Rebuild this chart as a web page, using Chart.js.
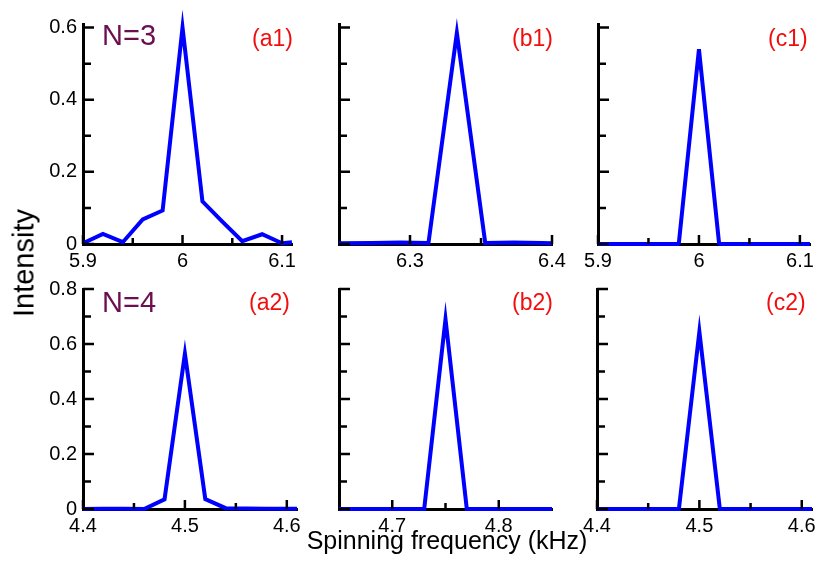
<!DOCTYPE html>
<html>
<head>
<meta charset="utf-8">
<script src="https://cdn.jsdelivr.net/npm/chart.js@4"></script>
<style>
  body { margin: 0; background: #fff; }
  #wrap { position: relative; width: 817px; height: 563px; overflow: hidden; background: #fff;
          font-family: "Liberation Sans", Arial, Helvetica, sans-serif; }
  canvas { position: absolute; }
  .lbl { position: absolute; line-height: 1; white-space: nowrap; }
  .n { color: #6b0f50; font-size: 29px; }
  .tag { color: #f20d0d; font-size: 23px; }
</style>
</head>
<body>
<div id="wrap">
  <canvas id="a1"></canvas>
  <canvas id="b1"></canvas>
  <canvas id="c1"></canvas>
  <canvas id="a2"></canvas>
  <canvas id="b2"></canvas>
  <canvas id="c2"></canvas>

  <div class="lbl n" style="left:102px;top:21px">N=3</div>
  <div class="lbl n" style="left:102px;top:288px">N=4</div>
  <div class="lbl tag" style="left:252px;top:27px">(a1)</div>
  <div class="lbl tag" style="left:512px;top:27px">(b1)</div>
  <div class="lbl tag" style="left:768px;top:27px">(c1)</div>
  <div class="lbl tag" style="left:249px;top:291px">(a2)</div>
  <div class="lbl tag" style="left:512px;top:291px">(b2)</div>
  <div class="lbl tag" style="left:766px;top:291px">(c2)</div>

  <div class="lbl" style="left:24px;top:263px;font-size:29px;transform:translate(-50%,-50%) rotate(-90deg)">Intensity</div>
  <div class="lbl" style="left:447px;top:528px;font-size:25px;transform:translateX(-50%)">Spinning frequency (kHz)</div>
</div>

<script>
// N=3 row
const a1X = [5.9, 5.92, 5.94, 5.96, 5.98, 6.0, 6.02, 6.04, 6.06, 6.08, 6.1, 6.11];
const a1Y = [0.002, 0.028, 0.005, 0.068, 0.093, 0.6, 0.118, 0.062, 0.008, 0.027, 0.002, 0.005];
const b1X = [6.25, 6.273, 6.293, 6.313, 6.333, 6.353, 6.373, 6.393, 6.4];
const b1Y = [0.002, 0.003, 0.004, 0.003, 0.585, 0.003, 0.004, 0.003, 0.002];
const c1X = [5.9, 5.92, 5.94, 5.96, 5.98, 6.0, 6.02, 6.04, 6.06, 6.08, 6.1, 6.11];
const c1Y = [0, 0, 0, 0, 0, 0.54, 0, 0, 0, 0, 0, 0];

// N=4 row
const a2X = [4.4, 4.42, 4.44, 4.46, 4.48, 4.5, 4.52, 4.54, 4.56, 4.58, 4.6, 4.61];
const a2Y = [0, 0.001, 0.001, 0, 0.035, 0.565, 0.036, 0.003, 0.002, 0.001, 0.001, 0.001];
const b2X = [4.65, 4.67, 4.69, 4.71, 4.73, 4.75, 4.77, 4.79, 4.81, 4.83, 4.85];
const b2Y = [0, 0, 0, 0, 0, 0.69, 0, 0, 0, 0, 0];
const c2X = [4.4, 4.42, 4.44, 4.46, 4.48, 4.5, 4.52, 4.54, 4.56, 4.58, 4.6, 4.61];
const c2Y = [0, 0, 0, 0, 0, 0.645, 0, 0, 0, 0, 0, 0];

// ticks and tick labels
const topYTicks = [0, 0.1, 0.2, 0.3, 0.4, 0.5, 0.6];
const topYLabels = ["0", "", "0.2", "", "0.4", "", "0.6"];
const botYTicks = [0, 0.1, 0.2, 0.3, 0.4, 0.5, 0.6, 0.7, 0.8];
const botYLabels = ["0", "", "0.2", "", "0.4", "", "0.6", "", "0.8"];
const noYLabels = ["", "", "", "", "", "", "", "", ""];
const x6Ticks = [5.9, 5.95, 6.0, 6.05, 6.1];
const x6Labels = ["5.9", "", "6", "", "6.1"];
const xb1Ticks = [6.3, 6.35, 6.4];
const xb1Labels = ["6.3", "", "6.4"];
const x45Ticks = [4.4, 4.45, 4.5, 4.55, 4.6];
const x45Labels = ["4.4", "", "4.5", "", "4.6"];
const xb2Ticks = [4.7, 4.75, 4.8];
const xb2Labels = ["4.7", "", "4.8"];

Chart.defaults.font.family = '"Liberation Sans", Arial, Helvetica, sans-serif';
Chart.defaults.color = "#000";

// inward tick marks, major every other tick
const innerTicks = {
  id: "innerTicks",
  afterDraw(chart) {
    const ctx = chart.ctx;
    const area = chart.chartArea;
    const xs = chart.scales.x;
    const ys = chart.scales.y;
    ctx.save();
    ctx.strokeStyle = "#000";
    ctx.lineWidth = 2.5;
    ctx.beginPath();
    xs.ticks.forEach((t, i) => {
      const px = xs.getPixelForValue(t.value);
      const len = i % 2 === 0 ? 9 : 6;
      ctx.moveTo(px, area.bottom);
      ctx.lineTo(px, area.bottom - len);
    });
    ys.ticks.forEach((t, i) => {
      const py = ys.getPixelForValue(t.value);
      const len = i % 2 === 0 ? 11 : 8;
      ctx.moveTo(area.left, py);
      ctx.lineTo(area.left + len, py);
    });
    ctx.stroke();
    ctx.restore();
  },
};

function makePanel(id, box, xs, ys, xMin, xMax, yMax, xTicks, xLabels, yTicks, yLabels, join) {
  const canvas = document.getElementById(id);
  const padL = 60, padT = 25, padR = 25, padB = 5, axisH = 30;
  canvas.width = box.r - box.l + padL + padR;
  canvas.height = box.b - box.t + padT + padB + axisH;
  canvas.style.left = box.l - padL + "px";
  canvas.style.top = box.t - padT + "px";

  new Chart(canvas, {
    type: "line",
    data: {
      datasets: [
        {
          data: xs.map((x, i) => ({ x: x, y: ys[i] })),
          borderColor: "#0000ff",
          borderWidth: 4,
          borderJoinStyle: join,
          pointRadius: 0,
          tension: 0,
          fill: false,
          clip: false,
        },
      ],
    },
    plugins: [innerTicks],
    options: {
      responsive: false,
      animation: false,
      layout: { padding: { left: 0, top: padT, right: padR, bottom: padB } },
      plugins: { legend: { display: false }, tooltip: { enabled: false } },
      scales: {
        x: {
          type: "linear",
          min: xMin,
          max: xMax,
          grid: { display: false, drawTicks: false },
          border: { display: true, color: "#000", width: 3 },
          afterBuildTicks: (scale) => {
            scale.ticks = xTicks.map((v) => ({ value: v }));
          },
          afterFit: (scale) => {
            scale.height = axisH;
            scale.paddingLeft = 0;
            scale.paddingRight = 0;
          },
          ticks: {
            autoSkip: false,
            maxRotation: 0,
            padding: 5,
            font: { size: 20 },
            callback: (v, i) => xLabels[i],
          },
        },
        y: {
          type: "linear",
          min: 0,
          max: yMax,
          grid: { display: false, drawTicks: false },
          border: { display: true, color: "#000", width: 3 },
          afterBuildTicks: (scale) => {
            scale.ticks = yTicks.map((v) => ({ value: v }));
          },
          afterFit: (scale) => {
            scale.width = padL;
            scale.paddingTop = 0;
            scale.paddingBottom = 0;
          },
          ticks: {
            autoSkip: false,
            padding: 6,
            font: { size: 20 },
            callback: (v, i) => yLabels[i],
          },
        },
      },
    },
  });
}

makePanel("a1", { l: 83, r: 292, t: 24, b: 244 }, a1X, a1Y, 5.9, 6.11, 0.61, x6Ticks, x6Labels, topYTicks, topYLabels, "miter");
makePanel("b1", { l: 339, r: 552, t: 24, b: 244 }, b1X, b1Y, 6.25, 6.4, 0.61, xb1Ticks, xb1Labels, topYTicks, noYLabels, "miter");
makePanel("c1", { l: 598, r: 810, t: 24, b: 244 }, c1X, c1Y, 5.9, 6.11, 0.61, x6Ticks, x6Labels, topYTicks, noYLabels, "bevel");
makePanel("a2", { l: 83, r: 297, t: 289, b: 509 }, a2X, a2Y, 4.4, 4.61, 0.8, x45Ticks, x45Labels, botYTicks, botYLabels, "miter");
makePanel("b2", { l: 339, r: 552, t: 289, b: 509 }, b2X, b2Y, 4.65, 4.85, 0.8, xb2Ticks, xb2Labels, botYTicks, noYLabels, "miter");
makePanel("c2", { l: 597, r: 812, t: 289, b: 509 }, c2X, c2Y, 4.4, 4.61, 0.8, x45Ticks, x45Labels, botYTicks, noYLabels, "miter");
</script>
</body>
</html>
